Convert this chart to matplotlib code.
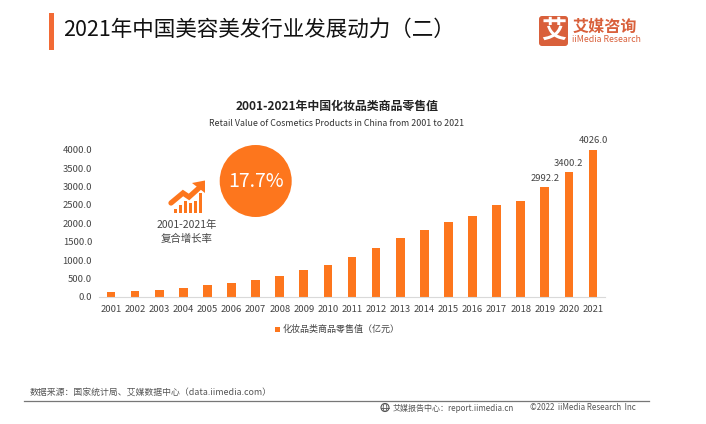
import matplotlib
matplotlib.use('Agg')
import matplotlib.pyplot as plt
from matplotlib.patches import Circle, Rectangle, Polygon, FancyBboxPatch, Ellipse

plt.rcParams['font.family'] = ['Noto Sans CJK SC', 'DejaVu Sans']

years = [str(y) for y in range(2001, 2022)]
values = [136, 163, 190, 244, 326, 371, 470, 570, 733, 869, 1086, 1330, 1611, 1810, 2036, 2208, 2498, 2606, 2992.2, 3400.2, 4026.0]
labelled_years = ['2019', '2020', '2021']
y_ticks = [0, 500, 1000, 1500, 2000, 2500, 3000, 3500, 4000]
series_name = '化妆品类商品零售值（亿元）'
main_title = '2021年中国美容美发行业发展动力（二）'
chart_title = '2001-2021年中国化妆品类商品零售值'
chart_sub = 'Retail Value of Cosmetics Products in China from 2001 to 2021'
source = '数据来源：国家统计局、艾媒数据中心（data.iimedia.com）'

W, H = 706, 424
ORANGE = '#FD761D'
LOGO = '#D9603B'
GREY = '#444444'

fig = plt.figure(figsize=(W / 100, H / 100), dpi=100)
bg = fig.add_axes([0, 0, 1, 1], zorder=0)
bg.set_xlim(0, W); bg.set_ylim(H, 0); bg.axis('off')

# chart axes: pixel box x 99..605, y 149.7..297
left, right, top, bottom = 99, 605, 149.7, 297
ax = fig.add_axes([left / W, 1 - bottom / H, (right - left) / W, (bottom - top) / H], zorder=1)
ax.patch.set_alpha(0)
pos = list(range(len(years)))
ax.bar(pos, values, width=0.36, color=ORANGE)
ax.set_xlim(-0.5, len(years) - 0.5)
ax.set_ylim(0, 4000)
ax.set_yticks(y_ticks, [f'{v:.1f}' for v in y_ticks], fontsize=6.8, color=GREY)
ax.set_xticks(pos, years, fontsize=6.8, color=GREY)
ax.tick_params(length=0, pad=6)
ax.tick_params(axis='y', pad=5)
for s in ['top', 'left', 'right']:
    ax.spines[s].set_visible(False)
ax.spines['bottom'].set_color('#D9D9D9')
ax.spines['bottom'].set_linewidth(0.8)
for p, y, v in zip(pos, years, values):
    if y in labelled_years:
        ax.annotate(f'{v:.1f}', (p, v), xytext=(0, 2.5), textcoords='offset points',
                    ha='center', va='bottom', fontsize=6.8, color=GREY, annotation_clip=False)

# header
bg.add_patch(Rectangle((49, 13), 5, 37, color='#F26A35', lw=0))
bg.text(63, 30, main_title, fontsize=15.5, color='#111111', va='center', ha='left')

# logo
bg.add_patch(FancyBboxPatch((539, 16), 29, 30, boxstyle='round,pad=0,rounding_size=3', color=LOGO, lw=0))
bg.text(553.5, 30.5, '艾', fontsize=18, color='white', ha='center', va='center', fontweight='bold')
bg.text(572.5, 26.5, '艾媒咨询', fontsize=11.6, color=LOGO, ha='left', va='center', fontweight='bold')
bg.text(572.5, 40, 'iiMedia Research', fontsize=6.3, color=LOGO, ha='left', va='center')

# chart titles
bg.text(337.5, 106, chart_title, fontsize=8.6, color='#222222', ha='center', va='center', fontweight='bold')
bg.text(337, 123.5, chart_sub, fontsize=6.35, color='#333333', ha='center', va='center')

# callout
bg.add_patch(Circle((255.7, 181), 36, color=ORANGE, lw=0))
bg.text(255.7, 181.5, '17.7%', fontsize=14, color='white', ha='center', va='center')
for x0, h in zip([173.5, 178.5, 183.5, 188.5, 193.5, 199], [4, 8, 12, 10, 12, 20]):
    bg.add_patch(Rectangle((x0, 213 - h), 3.2, h, color=ORANGE, lw=0))
bg.plot([171, 183, 189, 199], [203, 193, 197, 188], color=ORANGE, lw=3.8, solid_capstyle='round', solid_joinstyle='miter')
bg.add_patch(Polygon([[192, 183], [205, 180.5], [205, 193]], color=ORANGE, lw=0))
bg.text(187, 224.5, '2001-2021年', fontsize=7.5, color=GREY, ha='center', va='center')
bg.text(187, 239, '复合增长率', fontsize=7.5, color=GREY, ha='center', va='center')

# legend
bg.add_patch(Rectangle((275, 326.5), 5, 5.5, color=ORANGE, lw=0))
bg.text(283, 329.5, series_name, fontsize=6.5, color=GREY, ha='left', va='center')

# footer
bg.text(30, 392.5, source, fontsize=6.4, color='#555555', ha='left', va='center')
bg.plot([24, 649], [400.5, 400.5], color='#777777', lw=0.9)
bg.add_patch(Circle((385, 407.5), 4, fill=False, ec='#555555', lw=0.8))
bg.add_patch(Ellipse((385, 407.5), 3.6, 8, fill=False, ec='#555555', lw=0.6))
bg.plot([381, 389], [407.5, 407.5], color='#555555', lw=0.6)
bg.text(393, 408, '艾媒报告中心：report.iimedia.cn', fontsize=5.8, color='#555555', ha='left', va='center')
bg.text(530, 408, '©2022  iiMedia Research  Inc', fontsize=5.8, color='#555555', ha='left', va='center')

fig.savefig('out.png', dpi=100)
